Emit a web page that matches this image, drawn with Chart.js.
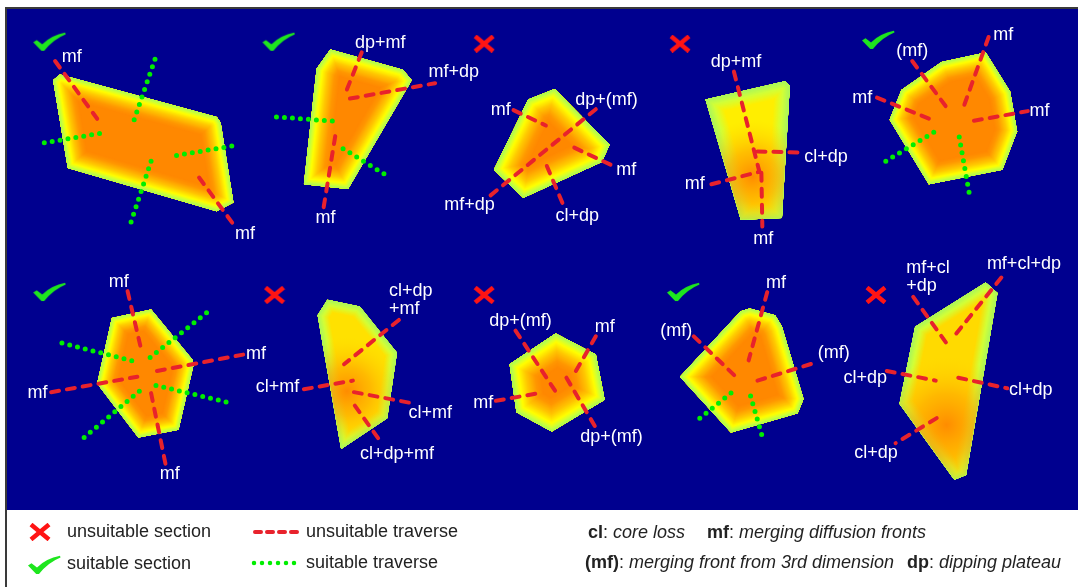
<!DOCTYPE html>
<html>
<head>
<meta charset="utf-8">
<title>Grain sections and traverses</title>
<script src="https://cdn.jsdelivr.net/npm/chart.js@4.4.1/dist/chart.umd.min.js"></script>
<style>
  html, body { margin: 0; padding: 0; background: #fff; }
  #wrap { width: 1078px; height: 587px; }
</style>
</head>
<body>
<div id="wrap"><canvas id="grains" width="1078" height="587"></canvas></div>
<script>
// Grain outlines, figure units (x right, y down)
const grainOutlines = [
  [[43,72],[50,66],[210,110],[214,116],[227,199],[210,208],[58,163]],
  [[312,60],[326,40],[400,61],[409,72],[344,185],[299,180]],
  [[555,81],[611,139],[603,157],[523,194],[493,165],[528,92]],
  [[709,92],[790,73],[795,78],[787,215],[745,217]],
  [[950,53],[995,43],[1020,84],[1027,125],[1012,165],[937,180],[897,113],[909,82]],
  [[103,319],[143,310],[185,362],[186,369],[171,435],[130,443],[88,387]],
  [[313,316],[323,300],[356,307],[394,355],[384,423],[337,455]],
  [[556,335],[597,357],[606,404],[552,437],[516,417],[509,367]],
  [[683,380],[745,312],[754,309],[780,316],[787,328],[809,403],[803,418],[735,438]],
  [[923,328],[995,282],[1007,293],[975,482],[963,487],[907,408]]
];

// Traverses: [x1, y1, x2, y2]
const unsuitableTraverses = [
  [45,52,88,112], [192,173,228,223],
  [358,43,340,89], [346,91,433,75], [331,130,319,205],
  [513,103,546,119], [597,102,489,192], [575,142,617,162], [547,161,564,202],
  [738,63,764,167], [762,146,808,147], [715,180,764,167], [766,168,767,224],
  [998,27,973,98], [920,52,955,100], [884,90,940,113], [983,114,1038,104],
  [119,291,133,352], [41,396,129,380], [149,374,237,357], [143,397,158,472],
  [396,321,340,367], [299,393,349,384], [350,396,407,407], [351,410,377,447],
  [515,332,557,397], [597,338,575,377], [567,381,597,433], [495,405,539,397],
  [772,292,753,363], [697,338,742,382], [762,384,822,365],
  [921,297,957,348], [1011,277,965,335], [894,374,944,384], [967,381,1017,392], [945,423,903,449]
];
const suitableTraverses = [
  [147,50,124,118], [34,137,98,126], [143,156,121,224], [169,150,233,139],
  [271,110,336,115], [339,143,382,170],
  [942,126,893,156], [968,131,979,194],
  [52,345,126,364], [142,360,204,310], [148,389,223,407], [131,395,70,447],
  [735,397,697,428], [755,400,768,446]
];

// Section verdicts
const suitableSections = [[39,32], [273,32], [885,30], [39,292], [686,292]];
const unsuitableSections = [[483,34], [683,34], [269,295], [483,295], [883,295]];

// Traverse end labels
const traverseLabels = [
  [62,48,'mf'], [239,232,'mf'],
  [377,33,'dp+mf'], [452,63,'mf+dp'], [321,215,'mf'],
  [500,103,'mf'], [608,92,'dp+(mf)'], [628,165,'mf'], [468,202,'mf+dp'], [578,213,'cl+dp'],
  [740,53,'dp+mf'], [832,152,'cl+dp'], [698,180,'mf'], [768,237,'mf'],
  [1013,25,'mf'], [920,42,'(mf)'], [869,90,'mf'], [1050,104,'mf'],
  [110,282,'mf'], [27,397,'mf'], [250,356,'mf'], [162,481,'mf'],
  [408,300,'cl+dp\n+mf'], [272,391,'cl+mf'], [428,418,'cl+mf'], [394,460,'cl+dp+mf'],
  [520,322,'dp+(mf)'], [606,328,'mf'], [482,407,'mf'], [613,443,'dp+(mf)'],
  [781,283,'mf'], [679,332,'(mf)'], [840,355,'(mf)'],
  [936,276,'mf+cl\n+dp'], [1034,263,'mf+cl+dp'], [872,381,'cl+dp'], [1041,394,'cl+dp'], [883,459,'cl+dp']
];

// colour ramps, t = 0 at the grain edge, 1 at the inner depth
const orangeRamp = [[0,[160,248,92]],[0.12,[205,255,55]],[0.26,[255,255,0]],[0.5,[255,200,0]],[0.8,[255,150,0]],[1,[255,136,0]]];
const yellowRamp = (inner) => [[0,[165,245,95]],[0.45,[210,255,55]],[1,inner]];

const grainLook = [
  { depth: 22, ramp: orangeRamp },
  { depth: 24, ramp: orangeRamp },
  { depth: 28, ramp: orangeRamp },
  { depth: 16, ramp: yellowRamp([255,238,0]), core: [757,172,58] },
  { depth: 22, ramp: orangeRamp },
  { depth: 20, ramp: orangeRamp },
  { depth: 12, ramp: yellowRamp([255,225,0]), core: [343,395,55] },
  { depth: 30, ramp: orangeRamp },
  { depth: 24, ramp: orangeRamp },
  { depth: 14, ramp: yellowRamp([255,218,0]), core: [955,430,70] }
];

const RED = '#e8222c';
const GREEN = '#00ee00';
const BLUE = 'rgb(0,0,143)';
const FONT = '"Liberation Sans", Arial, sans-serif';

function rampColor(stops, t) {
  t = Math.max(0, Math.min(1, t));
  for (let i = 1; i < stops.length; i++) {
    if (t <= stops[i][0]) {
      const [t0, c0] = stops[i - 1], [t1, c1] = stops[i];
      const f = (t - t0) / (t1 - t0);
      return 'rgb(' + c0.map((v, k) => Math.round(v + (c1[k] - v) * f)).join(',') + ')';
    }
  }
  return 'rgb(' + stops[stops.length - 1][1].join(',') + ')';
}

// tick and cross glyphs used as point styles
function makeTick() {
  const c = document.createElement('canvas');
  c.width = 34; c.height = 20;
  const g = c.getContext('2d');
  g.fillStyle = '#1ee61e';
  g.beginPath();
  g.moveTo(1, 10.5);
  g.lineTo(4.5, 8.3);
  g.lineTo(10, 12.5);
  g.quadraticCurveTo(19, 3.5, 33, 0.8);
  g.lineTo(33.5, 2.5);
  g.quadraticCurveTo(21, 7.5, 12, 19);
  g.lineTo(9.2, 19);
  g.closePath();
  g.fill();
  return c;
}
function makeCross() {
  const c = document.createElement('canvas');
  c.width = 22; c.height = 18;
  const g = c.getContext('2d');
  g.strokeStyle = '#ff1414';
  g.lineWidth = 4.5;
  g.beginPath();
  g.moveTo(2, 1.5); g.lineTo(20, 16.5);
  g.moveTo(20, 1.5); g.lineTo(2, 16.5);
  g.stroke();
  return c;
}
const tickImg = makeTick();
const crossImg = makeCross();

const pt = (p) => ({ x: p[0], y: p[1] });
const datasets = [];

grainOutlines.forEach((outline, i) => {
  datasets.push({
    data: outline.map(pt), grain: i,
    showLine: false, pointRadius: 0, pointHoverRadius: 0
  });
});
unsuitableTraverses.forEach(t => {
  datasets.push({
    data: [{ x: t[0], y: t[1] }, { x: t[2], y: t[3] }],
    showLine: true, borderColor: RED, borderWidth: 4, borderDash: [8, 8],
    borderCapStyle: 'round', pointRadius: 0, fill: false
  });
});
suitableTraverses.forEach(t => {
  datasets.push({
    data: [{ x: t[0], y: t[1] }, { x: t[2], y: t[3] }],
    showLine: true, borderColor: GREEN, borderWidth: 5, borderDash: [0, 8],
    borderCapStyle: 'round', pointRadius: 0, fill: false
  });
});
datasets.push({ data: suitableSections.map(pt), pointStyle: tickImg, pointRadius: 10 });
datasets.push({ data: unsuitableSections.map(pt), pointStyle: crossImg, pointRadius: 10 });

// blue panel and frame
const panelPlugin = {
  id: 'panel',
  beforeDraw(chart) {
    const ctx = chart.ctx;
    ctx.save();
    ctx.fillStyle = '#fff';
    ctx.fillRect(0, 0, chart.width, chart.height);
    ctx.fillStyle = '#3a3a3a';
    ctx.fillRect(5, 7, chart.width - 5, 2);
    ctx.fillRect(5, 7, 2, chart.height - 7);
    ctx.fillStyle = BLUE;
    ctx.fillRect(7, 9, chart.width - 7, 501);
    ctx.restore();
  }
};

// shaded grains, drawn from the dataset point elements
const grainPlugin = {
  id: 'grainFill',
  beforeDatasetsDraw(chart) {
    const ctx = chart.ctx;
    const xs = chart.scales.x, ys = chart.scales.y;
    chart.data.datasets.forEach((ds, di) => {
      if (ds.grain === undefined) return;
      const look = grainLook[ds.grain];
      const pts = chart.getDatasetMeta(di).data;
      const path = new Path2D();
      pts.forEach((p, i) => i ? path.lineTo(p.x, p.y) : path.moveTo(p.x, p.y));
      path.closePath();
      ctx.save();
      ctx.clip(path);
      ctx.fillStyle = rampColor(look.ramp, 1);
      ctx.fill(path);
      ctx.lineJoin = 'round';
      for (let d = look.depth; d >= 1; d -= 1) {
        ctx.lineWidth = 2 * d;
        ctx.strokeStyle = rampColor(look.ramp, d / look.depth);
        ctx.stroke(path);
      }
      if (look.core) {
        const cx = xs.getPixelForValue(look.core[0]);
        const cy = ys.getPixelForValue(look.core[1]);
        const r = xs.getPixelForValue(look.core[0] + look.core[2]) - cx;
        const g = ctx.createRadialGradient(cx, cy, 0, cx, cy, r);
        g.addColorStop(0, 'rgba(255,140,0,1)');
        g.addColorStop(0.45, 'rgba(255,165,0,0.65)');
        g.addColorStop(1, 'rgba(255,210,0,0)');
        ctx.fillStyle = g;
        ctx.fill(path);
      }
      ctx.restore();
    });
  }
};

// white labels at the traverse ends
const labelPlugin = {
  id: 'traverseLabels',
  afterDatasetsDraw(chart) {
    const ctx = chart.ctx;
    const xs = chart.scales.x, ys = chart.scales.y;
    ctx.save();
    ctx.fillStyle = '#fff';
    ctx.font = '18px ' + FONT;
    ctx.textBaseline = 'middle';
    traverseLabels.forEach(([x, y, text]) => {
      const px = xs.getPixelForValue(x), py = ys.getPixelForValue(y);
      const lines = text.split('\n');
      if (lines.length === 1) {
        ctx.textAlign = 'center';
        ctx.fillText(text, px, py);
      } else {
        const w = Math.max(...lines.map(l => ctx.measureText(l).width));
        ctx.textAlign = 'left';
        lines.forEach((l, k) => ctx.fillText(l, px - w / 2, py + (k - (lines.length - 1) / 2) * 18));
      }
    });
    ctx.restore();
  }
};

// key below the panel
const keyPlugin = {
  id: 'key',
  afterDraw(chart) {
    const ctx = chart.ctx;
    ctx.save();
    ctx.drawImage(crossImg, 40 - 11, 532 - 9);
    ctx.drawImage(tickImg, 44 - 17, 565 - 10);

    ctx.lineWidth = 4;
    ctx.lineCap = 'round';
    ctx.strokeStyle = RED;
    ctx.setLineDash([6, 6]);
    ctx.beginPath(); ctx.moveTo(255, 532); ctx.lineTo(297, 532); ctx.stroke();
    ctx.strokeStyle = GREEN;
    ctx.lineWidth = 4.5;
    ctx.setLineDash([0, 8]);
    ctx.beginPath(); ctx.moveTo(254, 563); ctx.lineTo(295, 563); ctx.stroke();
    ctx.setLineDash([]);

    ctx.fillStyle = '#222';
    ctx.textBaseline = 'middle';
    ctx.textAlign = 'left';
    ctx.font = '18px ' + FONT;
    ctx.fillText('unsuitable section', 67, 532);
    ctx.fillText('suitable section', 67, 564);
    ctx.fillText('unsuitable traverse', 306, 532);
    ctx.fillText('suitable traverse', 306, 563);

    const runs = (x, y, parts) => {
      parts.forEach(([txt, style]) => {
        ctx.font = (style ? style + ' ' : '') + '18px ' + FONT;
        ctx.fillText(txt, x, y);
        x += ctx.measureText(txt).width;
      });
    };
    runs(588, 533, [['cl', 'bold'], [': ', ''], ['core loss', 'italic']]);
    runs(707, 533, [['mf', 'bold'], [': ', ''], ['merging diffusion fronts', 'italic']]);
    runs(585, 563, [['(mf)', 'bold'], [': ', ''], ['merging front from 3rd dimension', 'italic']]);
    runs(907, 563, [['dp', 'bold'], [': ', ''], ['dipping plateau', 'italic']]);
    ctx.restore();
  }
};

new Chart(document.getElementById('grains'), {
  type: 'scatter',
  data: { datasets: datasets },
  options: {
    responsive: false,
    animation: false,
    devicePixelRatio: 1,
    layout: { padding: 0 },
    events: [],
    scales: {
      x: { type: 'linear', min: 0, max: 1078, display: false },
      y: { type: 'linear', min: 0, max: 587, reverse: true, display: false }
    },
    plugins: {
      legend: { display: false },
      tooltip: { enabled: false }
    }
  },
  plugins: [panelPlugin, grainPlugin, labelPlugin, keyPlugin]
});
</script>
</body>
</html>
